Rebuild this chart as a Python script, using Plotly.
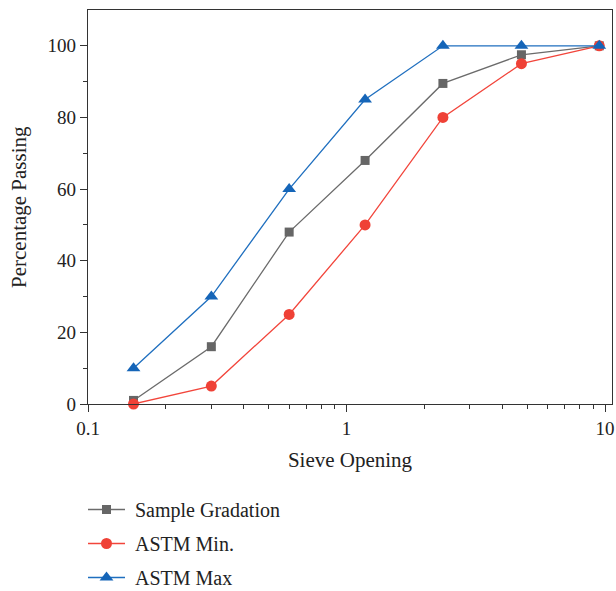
import plotly.graph_objects as go

# Sieve openings (mm) and percent passing
sieve_mm = [0.15, 0.3, 0.6, 1.18, 2.36, 4.75, 9.5]
sample_gradation = [1, 16, 48, 68, 89.5, 97.5, 100]
astm_min = [0, 5, 25, 50, 80, 95, 100]
astm_max = [10, 30, 60, 85, 100, 100, 100]

series = [
    ("Sample Gradation", sample_gradation, "#6b6b6b", "#666666", "square", 9),
    ("ASTM Min.", astm_min, "#f2453b", "#ef4136", "circle", 11),
    ("ASTM Max", astm_max, "#1f6fbf", "#1565b8", "triangle-up", 12),
]

FONT = "Liberation Serif, Times New Roman, serif"
PAD = "\u00a0"

W, H = 616, 591
ML, MR, MT, MB = 88, 4, 10, 187
PLOT_W = W - ML - MR

fig = go.Figure()
for name, vals, lc, mc, sym, ms in series:
    fig.add_trace(go.Scatter(
        x=sieve_mm, y=vals, name=PAD + name, mode="lines+markers",
        legendgroup=name,
        line=dict(color=lc, width=1.3),
        marker=dict(color=mc, symbol=sym, size=ms, line=dict(width=0)),
        cliponaxis=False,
    ))

axis_common = dict(
    showgrid=False, zeroline=False, showline=True, linecolor="#333333",
    linewidth=1.3, mirror=True, ticks="outside", ticklen=7, tickwidth=1.2,
    tickcolor="#333333", tickfont=dict(family=FONT, size=19, color="#222222"),
    title_font=dict(family=FONT, size=21, color="#222222"),
)

fig.update_xaxes(
    type="log", range=[-1, 1.027],
    tickvals=[0.1, 1, 10], ticktext=["0.1", "1", "10"],
    minor=dict(ticks="outside", ticklen=4, tickwidth=1, tickcolor="#333333",
               tickvals=[0.2, 0.3, 0.4, 0.5, 0.6, 0.7, 0.8, 0.9,
                         2, 3, 4, 5, 6, 7, 8, 9]),
    title_text="Sieve Opening", title_standoff=14,
    **axis_common,
)
fig.update_yaxes(
    range=[0, 110], tickvals=[0, 20, 40, 60, 80, 100],
    minor=dict(ticks="outside", ticklen=4, tickwidth=1, tickcolor="#333333",
               tickvals=[10, 30, 50, 70, 90]),
    **axis_common,
)

# vertical axis title
fig.add_annotation(
    text="Percentage Passing", textangle=-90,
    xref="paper", yref="paper", x=(19 - ML) / PLOT_W, y=0.5,
    xanchor="center", yanchor="middle", showarrow=False,
    font=dict(family=FONT, size=21, color="#222222"),
)

fig.update_layout(
    width=W, height=H,
    margin=dict(l=ML, r=MR, t=MT, b=MB, autoexpand=False),
    paper_bgcolor="white", plot_bgcolor="white",
    font=dict(family=FONT, color="#222222"),
    legend=dict(
        x=83 / W, y=1 - 490 / H, xref="container", yref="container",
        xanchor="left", yanchor="top",
        traceorder="grouped", tracegroupgap=5, itemwidth=37,
        font=dict(family=FONT, size=20, color="#222222"),
        bgcolor="rgba(0,0,0,0)",
    ),
)

fig.write_html("out.html")
